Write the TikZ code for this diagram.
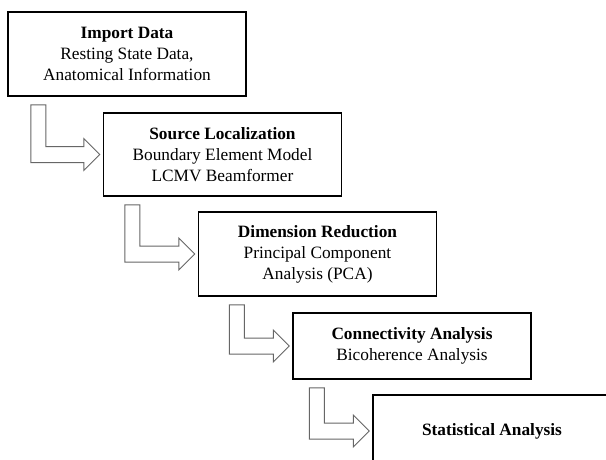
\documentclass[tikz,border=0pt]{standalone}
\usepackage{fontspec}
\setmainfont{Liberation Serif}
\usetikzlibrary{calc}

\tikzset{
  stepbox/.style={draw=black, line width=1.5pt, fill=white, minimum width=238pt,
    inner sep=0pt, align=center, font=\fontsize{17.3}{21}\selectfont},
  elbowarrow/.style={draw=black!60, line width=1pt, fill=white, line join=miter}
}

\begin{document}
\begin{tikzpicture}[x=1pt, y=-1pt]

  % Canvas
  \useasboundingbox (0,0) rectangle (606,459);
  \clip (0,0) rectangle (606,459);

  % ==================== PROCESSING STEPS ====================
  \node[stepbox, minimum height=84pt] (imp) at (127,54)
    {\textbf{Import Data}\\Resting State Data,\\Anatomical Information};
  \node[stepbox, minimum height=83pt] (src) at (222.5,154.5)
    {\textbf{Source Localization}\\Boundary Element Model\\LCMV Beamformer};
  \node[stepbox, minimum height=84pt] (dim) at (317.5,254)
    {\textbf{Dimension Reduction}\\Principal Component\\Analysis (PCA)};
  \node[stepbox, minimum height=66pt] (con) at (412,346)
    {\textbf{Connectivity Analysis}\\Bicoherence Analysis};
  \node[stepbox, minimum height=72pt] (stat) at (492,431)
    {\textbf{Statistical Analysis}};

  % ==================== ELBOW ARROWS ====================
  \foreach \from/\to/\off in {imp/src/72pt, src/dim/73pt, dim/con/63pt, con/stat/63pt} {
    \draw[elbowarrow] let \p1 = (\from.south), \p2 = (\to.west) in
      (\x2-\off,\y1-8pt) -- (\x2-\off+15pt,\y1-8pt) -- (\x2-\off+15pt,\y2+8pt)
      -- (\x2-19pt,\y2+8pt) -- (\x2-19pt,\y2+16pt) -- (\x2-3pt,\y2)
      -- (\x2-19pt,\y2-16pt) -- (\x2-19pt,\y2-8pt) -- (\x2-\off,\y2-8pt) -- cycle;
  }

\end{tikzpicture}
\end{document}
